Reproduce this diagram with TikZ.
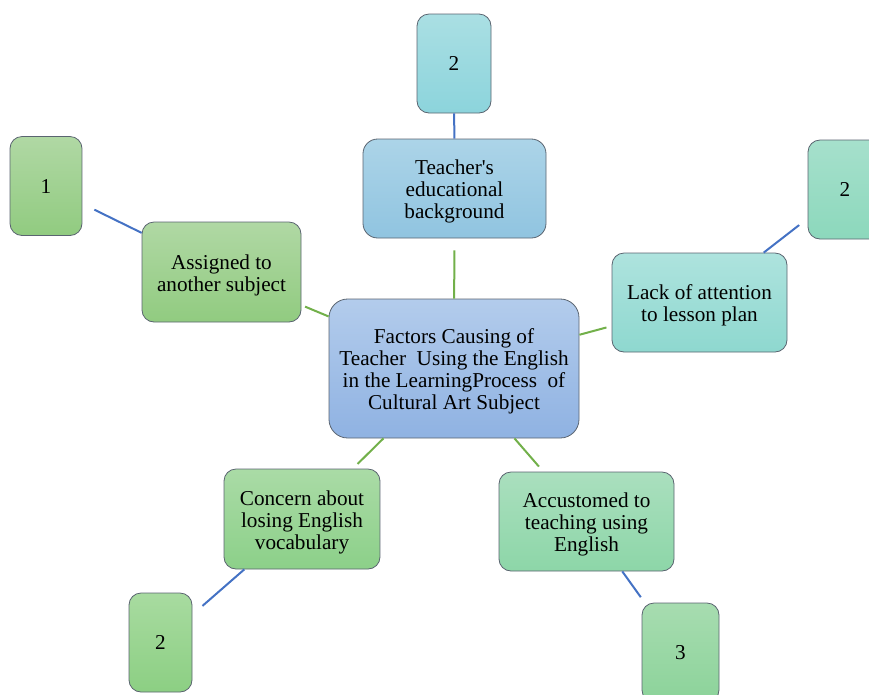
\documentclass[tikz,border=0pt]{standalone}
\usepackage{fontspec}
\setmainfont{Liberation Serif}
\definecolor{boxedge}{HTML}{5A6470}
\definecolor{linkgreen}{HTML}{72B04A}
\definecolor{linkblue}{HTML}{4472C4}
\newcommand{\toproom}{\rule{0pt}{15.5pt}}
\begin{document}
\begin{tikzpicture}[x=0.75pt,y=-0.75pt,
  box/.style={draw=boxedge, line width=0.6pt, rounded corners=9pt, align=center, inner sep=2pt,
    font=\fontsize{15.9}{16.5}\selectfont, shading=axis},
  factor/.style={line width=1.5pt, draw=linkgreen},
  count/.style={line width=1.5pt, draw=linkblue}]
\useasboundingbox (0,0) rectangle (869,694);
% centre
\node[box, rounded corners=14pt, minimum width=187.5pt, minimum height=104.25pt,
  top color={rgb,255:red,179;green,204;blue,236}, bottom color={rgb,255:red,143;green,178;blue,226}]
  (factors) at (454,368.5) {\toproom Factors Causing of\\Teacher\ \ Using the English\\in the LearningProcess\ \ of\\Cultural Art Subject};
% factors
\node[box, rounded corners=11pt, minimum width=137.25pt, minimum height=74.25pt,
  top color={rgb,255:red,172;green,212;blue,232}, bottom color={rgb,255:red,144;green,196;blue,224}]
  (background) at (454.5,188.5) {\toproom Teacher\textquotesingle s\\educational\\background};
\node[box, minimum width=119.25pt, minimum height=75pt,
  top color={rgb,255:red,176;green,216;blue,164}, bottom color={rgb,255:red,145;green,203;blue,128}]
  (assigned) at (221.5,272) {\toproom Assigned to\\another subject};
\node[box, minimum width=131.25pt, minimum height=74.25pt,
  top color={rgb,255:red,174;green,227;blue,222}, bottom color={rgb,255:red,142;green,216;blue,207}]
  (attention) at (699.5,302.5) {\toproom Lack of attention\\to lesson plan};
\node[box, minimum width=117pt, minimum height=75pt,
  top color={rgb,255:red,170;green,219;blue,166}, bottom color={rgb,255:red,140;green,208;blue,137}]
  (vocabulary) at (302,519) {\toproom Concern about\\losing English\\vocabulary};
\node[box, minimum width=131.25pt, minimum height=74.25pt,
  top color={rgb,255:red,170;green,223;blue,190}, bottom color={rgb,255:red,141;green,214;blue,168}]
  (accustomed) at (586.5,521.5) {\toproom Accustomed to\\teaching using\\English};
% counts
\node[box, minimum width=55.5pt, minimum height=74.25pt,
  top color={rgb,255:red,170;green,223;blue,227}, bottom color={rgb,255:red,140;green,212;blue,220}]
  (nbackground) at (454,63.5) {2};
\node[box, minimum width=54pt, minimum height=74.25pt,
  top color={rgb,255:red,176;green,216;blue,164}, bottom color={rgb,255:red,145;green,203;blue,128}]
  (nassigned) at (46,186) {1};
\node[box, minimum width=55.5pt, minimum height=74.25pt,
  top color={rgb,255:red,166;green,224;blue,204}, bottom color={rgb,255:red,140;green,216;blue,188}]
  (nattention) at (845,189.5) {2};
\node[box, minimum width=47.25pt, minimum height=74.25pt,
  top color={rgb,255:red,168;green,219;blue,160}, bottom color={rgb,255:red,140;green,207;blue,131}]
  (nvocabulary) at (160.5,642.5) {2};
\node[box, minimum width=57.75pt, minimum height=74.25pt,
  top color={rgb,255:red,167;green,220;blue,176}, bottom color={rgb,255:red,140;green,211;blue,154}]
  (naccustomed) at (680.5,652.5) {3};
% links
\draw[factor, shorten >=9pt] (factors) -- (background);
\draw[factor, shorten >=3pt] (factors) -- (assigned);
\draw[factor, shorten >=4pt] (factors) -- (attention);
\draw[factor, shorten >=5pt] (factors) -- (vocabulary);
\draw[factor, shorten >=5pt] (factors) -- (accustomed);
\draw[count] (background) -- (nbackground);
\draw[count, shorten >=10pt] (assigned) -- (nassigned);
\draw[count, shorten >=8pt] (attention) -- (nattention);
\draw[count, shorten >=10pt] (vocabulary) -- (nvocabulary);
\draw[count, shorten >=5pt] (accustomed) -- (naccustomed);
\end{tikzpicture}
\end{document}
